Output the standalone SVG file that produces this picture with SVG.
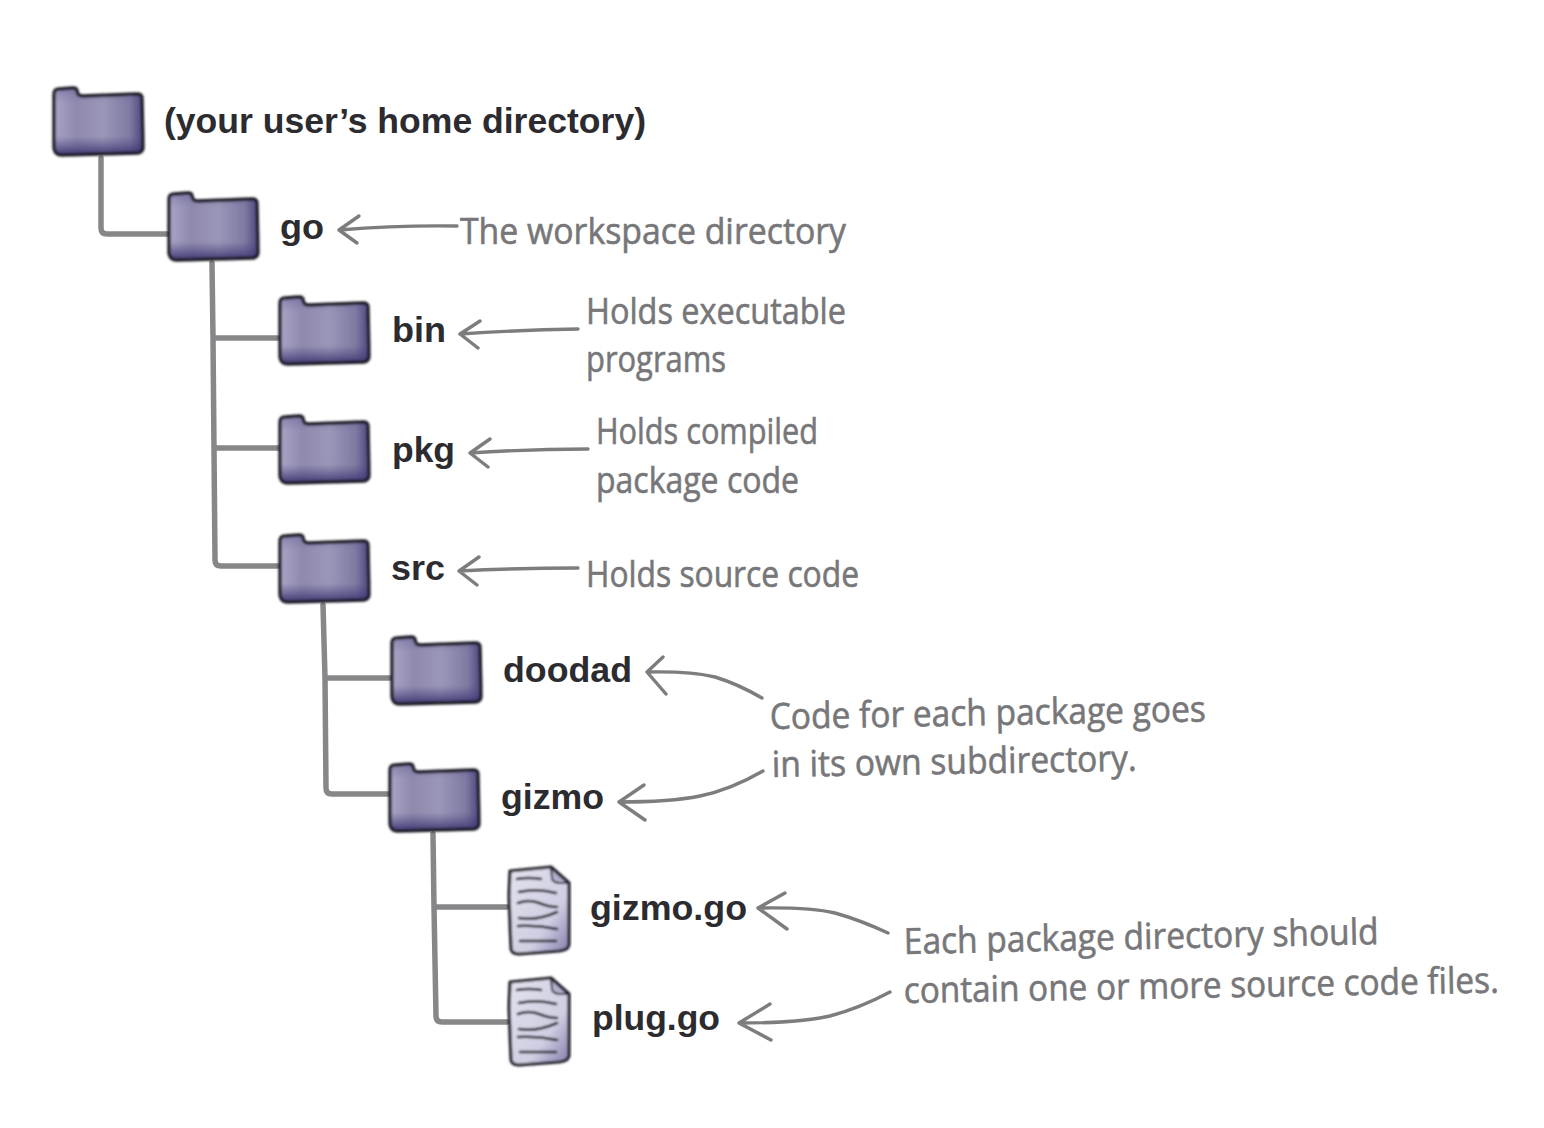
<svg xmlns="http://www.w3.org/2000/svg" width="1544" height="1128" viewBox="0 0 1544 1128">
<style>
.lbl{font-family:"Liberation Sans",Arial,sans-serif;font-weight:700;font-size:35px;fill:#2b2b30}
.note{font-family:"Open Sans","Liberation Sans",sans-serif;font-weight:400;font-size:36px;fill:#77777a;stroke:#77777a;stroke-width:0.6}
.tree{fill:none;stroke:#87878a;stroke-width:5.5;stroke-linejoin:round;stroke-linecap:round}
.arr{fill:none;stroke:#7d7d80;stroke-width:3.4;stroke-linecap:round;stroke-linejoin:round}
.ink{fill:none;stroke:#1d1c26;stroke-linecap:round;stroke-linejoin:round}
</style>
<defs>
<linearGradient id="fh" x1="0" y1="0" x2="1" y2="0">
<stop offset="0" stop-color="#a9a5c6"/><stop offset="0.25" stop-color="#8f8aad"/><stop offset="0.55" stop-color="#9b97b8"/><stop offset="0.85" stop-color="#7f7aa2"/><stop offset="1" stop-color="#4d4780"/>
</linearGradient>
<linearGradient id="fv" x1="0" y1="0" x2="0" y2="1">
<stop offset="0" stop-color="#5c5690" stop-opacity="0.4"/><stop offset="0.22" stop-color="#5c5690" stop-opacity="0"/><stop offset="0.72" stop-color="#4b4580" stop-opacity="0"/><stop offset="1" stop-color="#38326e" stop-opacity="0.95"/>
</linearGradient>
<linearGradient id="pg" x1="0" y1="0" x2="1" y2="1">
<stop offset="0" stop-color="#e4e3ee"/><stop offset="0.65" stop-color="#cfcee2"/><stop offset="1" stop-color="#7f7aa8"/>
</linearGradient>
<filter id="soft" x="-5%" y="-5%" width="110%" height="110%"><feGaussianBlur stdDeviation="0.8"/></filter>
<g id="folder" filter="url(#soft)">
<path d="M1 6Q1 1 6 1L20 0Q24 0 24 3L25 6Q26 8 30 8L84 6Q89 6 89 10L90 59Q90 64 85 65L10 67Q2 68 1 60Z" fill="url(#fh)"/>
<path d="M1 6Q1 1 6 1L20 0Q24 0 24 3L25 6Q26 8 30 8L84 6Q89 6 89 10L90 59Q90 64 85 65L10 67Q2 68 1 60Z" fill="url(#fv)"/>
<path class="ink" stroke-width="3.4" d="M1 6Q1 1 6 1L20 0Q24 0 24 3L25 6Q26 8 30 8L84 6Q89 6 89 10L90 59Q90 64 85 65L10 67Q2 68 1 60Z"/>
</g>
<g id="file" filter="url(#soft)">
<path d="M3 5L44 1L62 17L62 78Q62 84 52 85L12 88Q4 88 4 82L2 30Z" fill="url(#pg)"/>
<path d="M44 2L45 13Q46 18 61 17Z" fill="#b3b0cf"/>
<path class="ink" stroke-width="3.2" d="M3 5L44 1L62 17L62 78Q62 84 52 85L12 88Q4 88 4 82L2 30Z"/>
<path class="ink" stroke-width="1.8" d="M44 2L45 13Q46 18 61 17"/>
<path class="ink" stroke-width="2.6" d="M10 13Q22 11 34 13M12 26Q30 22 49 27M11 37Q22 33 32 37T50 41M12 52Q30 55 50 46M11 60Q30 59 50 63M13 75L49 75"/>
</g>
</defs>
<rect width="1544" height="1128" fill="#ffffff"/>

<g id="connectors">
<path class="tree" d="M101 158L101 228Q101 234 107 234L168 234"/>
<path class="tree" d="M212 263L213 338L215 560Q215 566 221 566L279 566M213 338L279 338M214 448L279 448"/>
<path class="tree" d="M323 605L325 678L326 788Q326 794 332 794L389 794M325 678L391 678"/>
<path class="tree" d="M433 834L434 907L436 1016Q436 1022 442 1022L507 1022M434 907L507 907"/>
<path class="arr" d="M457 226Q400 225 339 230M359 216L339 230L357 243"/>
<path class="arr" d="M578 329Q520 330 460 334M480 321L460 334L478 348"/>
<path class="arr" d="M588 449Q530 449 470 453M490 439L470 453L488 467"/>
<path class="arr" d="M578 568Q520 568 459 571M479 557L459 571L477 585"/>
<path class="arr" d="M762 698Q738 684 715 677Q690 671 647 672M663 657L647 672L666 694"/>
<path class="arr" d="M763 771Q730 790 700 796Q670 802 619 802M644 785L619 802L645 820"/>
<path class="arr" d="M888 933Q860 920 835 913Q810 907 758 908M785 893L758 908L787 929"/>
<path class="arr" d="M890 992Q860 1008 830 1016Q800 1023 739 1023M770 1004L739 1023L771 1040"/>
</g>

<g id="home"><use href="#folder" x="53" y="88"/><text class="lbl" x="164" y="133" textLength="482" lengthAdjust="spacingAndGlyphs">(your user’s home directory)</text></g>
<g id="go"><use href="#folder" x="168" y="193"/><text class="lbl" x="280" y="239" textLength="44" lengthAdjust="spacingAndGlyphs">go</text></g>
<g id="bin"><use href="#folder" x="279" y="297"/><text class="lbl" x="392" y="342" textLength="54" lengthAdjust="spacingAndGlyphs">bin</text></g>
<g id="pkg"><use href="#folder" x="279" y="416"/><text class="lbl" x="392" y="462" textLength="63" lengthAdjust="spacingAndGlyphs">pkg</text></g>
<g id="src"><use href="#folder" x="279" y="535"/><text class="lbl" x="391" y="580" textLength="54" lengthAdjust="spacingAndGlyphs">src</text></g>
<g id="doodad"><use href="#folder" x="391" y="637"/><text class="lbl" x="503" y="682" textLength="129" lengthAdjust="spacingAndGlyphs">doodad</text></g>
<g id="gizmo"><use href="#folder" x="389" y="764"/><text class="lbl" x="501" y="809" textLength="103" lengthAdjust="spacingAndGlyphs">gizmo</text></g>
<g id="gizmo-go"><use href="#file" x="507" y="866"/><text class="lbl" x="590" y="920" textLength="157" lengthAdjust="spacingAndGlyphs">gizmo.go</text></g>
<g id="plug-go"><use href="#file" x="507" y="977"/><text class="lbl" x="592" y="1030" textLength="128" lengthAdjust="spacingAndGlyphs">plug.go</text></g>

<g id="notes">
<text class="note" x="460" y="244" textLength="386" lengthAdjust="spacingAndGlyphs">The workspace directory</text>
<text class="note" x="586" y="324" textLength="260" lengthAdjust="spacingAndGlyphs">Holds executable</text>
<text class="note" x="586" y="372" textLength="140" lengthAdjust="spacingAndGlyphs">programs</text>
<text class="note" x="596" y="444" textLength="222" lengthAdjust="spacingAndGlyphs">Holds compiled</text>
<text class="note" x="596" y="493" textLength="203" lengthAdjust="spacingAndGlyphs">package code</text>
<text class="note" x="586" y="587" textLength="273" lengthAdjust="spacingAndGlyphs">Holds source code</text>
<text class="note" x="770" y="729" textLength="436" lengthAdjust="spacingAndGlyphs" transform="rotate(-1 770 729)">Code for each package goes</text>
<text class="note" x="772" y="777" textLength="365" lengthAdjust="spacingAndGlyphs" transform="rotate(-1 772 777)">in its own subdirectory.</text>
<text class="note" x="904" y="954" textLength="475" lengthAdjust="spacingAndGlyphs" transform="rotate(-1.2 904 954)">Each package directory should</text>
<text class="note" x="904" y="1003" textLength="595" lengthAdjust="spacingAndGlyphs" transform="rotate(-1 904 1003)">contain one or more source code files.</text>
</g>
</svg>
